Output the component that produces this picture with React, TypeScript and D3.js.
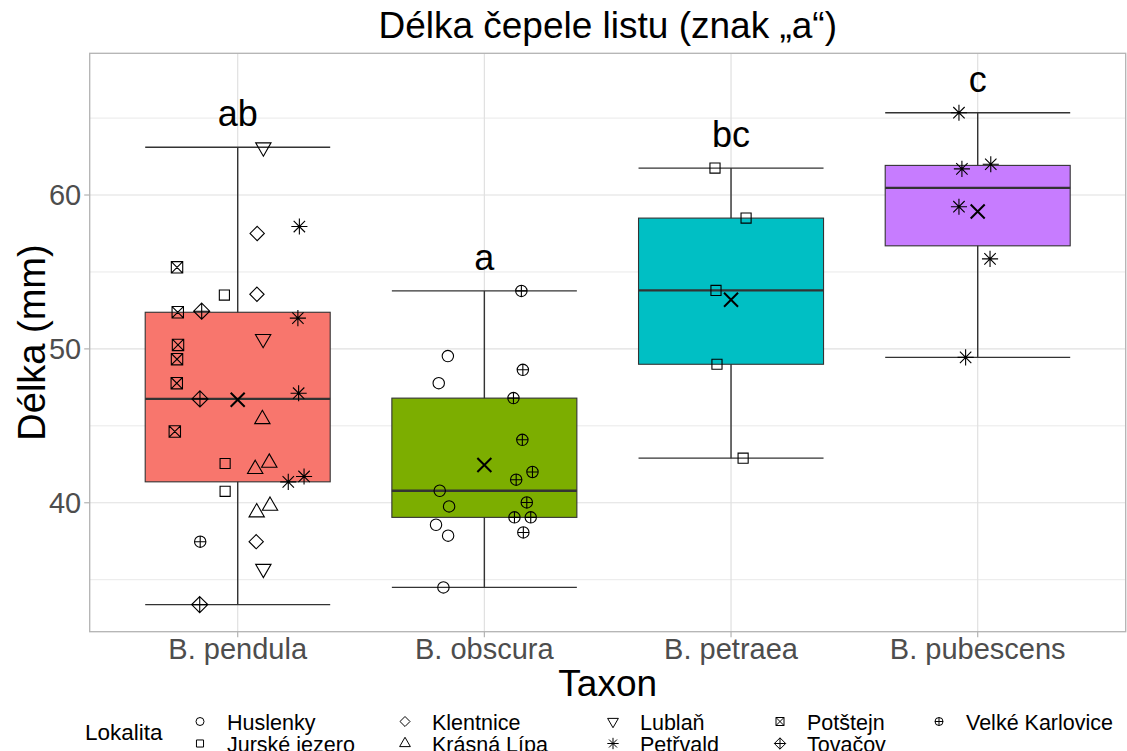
import React from "react";
import * as d3 from "d3";

// ---------- data ----------
const taxa = ["B. pendula", "B. obscura", "B. petraea", "B. pubescens"];
const taxonColors = ["#F8766D", "#7CAE00", "#00BFC4", "#C77CFF"];
const groupLetters = ["ab", "a", "bc", "c"];

const localities = [
  "Huslenky",
  "Jurské jezero",
  "Klentnice",
  "Krásná Lípa",
  "Lublaň",
  "Petřvald",
  "Potštejn",
  "Tovačov",
  "Velké Karlovice",
];
const localityShapes = [
  "circle",
  "square",
  "diamond",
  "triangle",
  "triangleDown",
  "asterisk",
  "squareCross",
  "diamondPlus",
  "circlePlus",
];

// B. pendula
const pendulaValues = [
  63.1, 57.5, 57.95, 55.3, 53.5, 53.55, 52.38, 52.45, 52.0, 50.65, 50.26, 49.33,
  47.77, 46.75, 47.12, 45.43, 44.63, 42.55, 42.6, 42.19, 41.36, 41.71, 40.74,
  39.8, 39.37, 37.47, 37.47, 35.71, 33.38,
];
const pendulaLocality = [
  4, 2, 5, 6, 1, 2, 6, 7, 5, 4, 6, 6, 6, 7, 5, 3, 6, 1, 3, 3, 5, 5, 1, 3, 3, 8,
  2, 4, 7,
];
const pendulaJitter = [
  0.104, 0.079, 0.25, -0.246, -0.054, 0.078, -0.243, -0.146, 0.244, 0.103,
  -0.242, -0.246, -0.247, -0.153, 0.247, 0.1, -0.255, -0.051, 0.128, 0.071,
  0.205, 0.269, -0.051, 0.131, 0.077, -0.152, 0.075, 0.104, -0.154,
];

// B. obscura
const obscuraValues = [
  49.53, 47.77, 40.78, 39.76, 38.57, 37.86, 34.5, 53.77, 48.64, 46.8, 44.09,
  42.0, 41.5, 40.02, 39.05, 39.05, 38.07,
];
const obscuraLocality = [0, 0, 0, 0, 0, 0, 0, 8, 8, 8, 8, 8, 8, 8, 8, 8, 8];
const obscuraJitter = [
  -0.148, -0.185, -0.181, -0.143, -0.196, -0.147, -0.166, 0.15, 0.156, 0.118,
  0.154, 0.195, 0.129, 0.172, 0.122, 0.188, 0.158,
];

// B. petraea
const petraeaValues = [61.75, 58.5, 53.8, 49.0, 42.9];
const petraeaLocality = [1, 1, 1, 1, 1];
const petraeaJitter = [-0.065, 0.061, -0.061, -0.057, 0.049];

// B. pubescens
const pubescensValues = [65.35, 61.7, 62.0, 59.24, 55.85, 49.45];
const pubescensLocality = [5, 5, 5, 5, 5, 5];
const pubescensJitter = [-0.076, -0.064, 0.053, -0.076, 0.05, -0.049];

const yMajorTicks = [40, 50, 60];
const yMinorTicks = [35, 45, 55, 65];

const titleText = "Délka čepele listu (znak „a“)";
const xTitle = "Taxon";
const yTitle = "Délka (mm)";
const legendTitle = "Lokalita";

// ---------- layout ----------
const W = 1127;
const H = 751;
const panel = { left: 89.7, right: 1125.7, top: 53.3, bottom: 631.7 };
const FONT = "'Liberation Sans', Arial, Helvetica, sans-serif";

const groups = [
  { values: pendulaValues, loc: pendulaLocality, jit: pendulaJitter },
  { values: obscuraValues, loc: obscuraLocality, jit: obscuraJitter },
  { values: petraeaValues, loc: petraeaLocality, jit: petraeaJitter },
  { values: pubescensValues, loc: pubescensLocality, jit: pubescensJitter },
];

const x = d3.scaleLinear().domain([-0.6, taxa.length - 0.4]).range([panel.left, panel.right]);
const y = d3.scaleLinear().domain([31.62, 69.21]).range([panel.bottom, panel.top]);

function boxStats(vals: number[]) {
  const s = vals.slice().sort(d3.ascending);
  const q1 = d3.quantile(s, 0.25) as number;
  const med = d3.quantile(s, 0.5) as number;
  const q3 = d3.quantile(s, 0.75) as number;
  const iqr = q3 - q1;
  const lo = d3.min(s.filter((v) => v >= q1 - 1.5 * iqr)) as number;
  const hi = d3.max(s.filter((v) => v <= q3 + 1.5 * iqr)) as number;
  const mean = d3.mean(s) as number;
  return { q1, med, q3, lo, hi, mean };
}

const TRC0 = 1.5551203;
const TRC1 = 1.3467737;
const TRC2 = 0.7775602;

function circlePath(cx: number, cy: number, r: number) {
  return `M${cx - r},${cy}a${r},${r} 0 1,0 ${2 * r},0a${r},${r} 0 1,0 ${-2 * r},0Z`;
}

function shapePath(shape: string, cx: number, cy: number, r: number) {
  switch (shape) {
    case "circle":
      return circlePath(cx, cy, r);
    case "square": {
      const s = r * 0.8862;
      return `M${cx - s},${cy - s}H${cx + s}V${cy + s}H${cx - s}Z`;
    }
    case "diamond": {
      const d = r * 1.2533;
      return `M${cx},${cy - d}L${cx + d},${cy}L${cx},${cy + d}L${cx - d},${cy}Z`;
    }
    case "triangle":
      return `M${cx},${cy - r * TRC0}L${cx + r * TRC1},${cy + r * TRC2}L${cx - r * TRC1},${cy + r * TRC2}Z`;
    case "triangleDown":
      return `M${cx},${cy + r * TRC0}L${cx + r * TRC1},${cy - r * TRC2}L${cx - r * TRC1},${cy - r * TRC2}Z`;
    case "asterisk": {
      const p = r * Math.SQRT2;
      return `M${cx - r},${cy - r}L${cx + r},${cy + r}M${cx - r},${cy + r}L${cx + r},${cy - r}M${cx - p},${cy}H${cx + p}M${cx},${cy - p}V${cy + p}`;
    }
    case "squareCross":
      return `M${cx - r},${cy - r}H${cx + r}V${cy + r}H${cx - r}ZM${cx - r},${cy - r}L${cx + r},${cy + r}M${cx - r},${cy + r}L${cx + r},${cy - r}`;
    case "diamondPlus": {
      const d = r * Math.SQRT2;
      return `M${cx},${cy - d}L${cx + d},${cy}L${cx},${cy + d}L${cx - d},${cy}ZM${cx - d},${cy}H${cx + d}M${cx},${cy - d}V${cy + d}`;
    }
    case "circlePlus":
      return `${circlePath(cx, cy, r)}M${cx - r},${cy}H${cx + r}M${cx},${cy - r}V${cy + r}`;
    default:
      return circlePath(cx, cy, r);
  }
}

const legendCols = [200, 405, 613, 780, 939];
const legendRowsBaseline = [730, 752];

export default function App() {
  const boxHalf = 0.375;
  const PT_R = 5.7;
  const LEG_R = 4.0;

  return (
    <svg
      width={W}
      height={H}
      viewBox={`0 0 ${W} ${H}`}
      style={{ position: "absolute", left: 0, top: 0, display: "block", background: "#fff" }}
      fontFamily={FONT}
    >
      <rect x={0} y={0} width={W} height={H} fill="#fff" />

      {/* grid */}
      {yMinorTicks.map((t) => (
        <line key={"mi" + t} x1={panel.left} x2={panel.right} y1={y(t)} y2={y(t)} stroke="#E6E6E6" strokeWidth={0.9} />
      ))}
      {yMajorTicks.map((t) => (
        <line key={"ma" + t} x1={panel.left} x2={panel.right} y1={y(t)} y2={y(t)} stroke="#E0E0E0" strokeWidth={1.2} />
      ))}
      {taxa.map((t, i) => (
        <line key={"vx" + t} x1={x(i)} x2={x(i)} y1={panel.top} y2={panel.bottom} stroke="#E0E0E0" strokeWidth={1.2} />
      ))}

      {/* boxes */}
      {groups.map((g, i) => {
        const st = boxStats(g.values);
        const cx = x(i);
        const x0 = x(i - boxHalf);
        const x1 = x(i + boxHalf);
        return (
          <g key={"box" + i}>
            <line x1={cx} x2={cx} y1={y(st.hi)} y2={y(st.lo)} stroke="#333333" strokeWidth={1.4} />
            <line x1={x0} x2={x1} y1={y(st.hi)} y2={y(st.hi)} stroke="#333333" strokeWidth={1.4} />
            <line x1={x0} x2={x1} y1={y(st.lo)} y2={y(st.lo)} stroke="#333333" strokeWidth={1.4} />
            <rect
              x={x0}
              y={y(st.q3)}
              width={x1 - x0}
              height={y(st.q1) - y(st.q3)}
              fill={taxonColors[i]}
              stroke="#333333"
              strokeWidth={1.1}
            />
            <line x1={x0} x2={x1} y1={y(st.med)} y2={y(st.med)} stroke="#333333" strokeWidth={2.3} />
          </g>
        );
      })}

      {/* points */}
      {groups.map((g, i) =>
        g.values.map((v, j) => (
          <path
            key={`pt${i}-${j}`}
            d={shapePath(localityShapes[g.loc[j]], x(i + g.jit[j]), y(v), PT_R)}
            fill="none"
            stroke="#000"
            strokeWidth={1.1}
          />
        ))
      )}

      {/* means */}
      {groups.map((g, i) => {
        const m = d3.mean(g.values) as number;
        const cx = x(i);
        const cy = y(m);
        const h = 7;
        return (
          <path
            key={"mean" + i}
            d={`M${cx - h},${cy - h}L${cx + h},${cy + h}M${cx - h},${cy + h}L${cx + h},${cy - h}`}
            stroke="#000"
            strokeWidth={2}
            fill="none"
          />
        );
      })}

      {/* group letters */}
      {groups.map((g, i) => {
        const st = boxStats(g.values);
        return (
          <text key={"lt" + i} x={x(i)} y={y(st.hi) - 21} textAnchor="middle" fontSize={36} fill="#000">
            {groupLetters[i]}
          </text>
        );
      })}

      {/* panel border */}
      <rect
        x={panel.left}
        y={panel.top}
        width={panel.right - panel.left}
        height={panel.bottom - panel.top}
        fill="none"
        stroke="#B3B3B3"
        strokeWidth={1.3}
      />

      {/* y axis */}
      {yMajorTicks.map((t) => (
        <g key={"yt" + t}>
          <line x1={panel.left - 5.5} x2={panel.left} y1={y(t)} y2={y(t)} stroke="#B3B3B3" strokeWidth={1.2} />
          <text x={panel.left - 8.5} y={y(t)} dy="0.36em" textAnchor="end" fontSize={29} fill="#4D4D4D">
            {t}
          </text>
        </g>
      ))}

      {/* x axis */}
      {taxa.map((t, i) => (
        <g key={"xt" + t}>
          <line x1={x(i)} x2={x(i)} y1={panel.bottom} y2={panel.bottom + 5.5} stroke="#B3B3B3" strokeWidth={1.2} />
          <text x={x(i)} y={659} textAnchor="middle" fontSize={29} fill="#4D4D4D">
            {t}
          </text>
        </g>
      ))}

      {/* titles */}
      <text x={(panel.left + panel.right) / 2} y={38} textAnchor="middle" fontSize={37} fill="#000">
        {titleText}
      </text>
      <text x={(panel.left + panel.right) / 2} y={696} textAnchor="middle" fontSize={37} fill="#000">
        {xTitle}
      </text>
      <text
        transform={`translate(45,${(panel.top + panel.bottom) / 2}) rotate(-90)`}
        textAnchor="middle"
        fontSize={38}
        fill="#000"
      >
        {yTitle}
      </text>

      {/* legend */}
      <text x={85} y={740} fontSize={22.5} fill="#000">
        {legendTitle}
      </text>
      {localities.map((name, k) => {
        const col = Math.floor(k / 2);
        const row = k % 2;
        const kx = legendCols[col];
        const base = legendRowsBaseline[row];
        return (
          <g key={"lg" + k}>
            <path
              d={shapePath(localityShapes[k], kx, base - 8.5, LEG_R)}
              fill="none"
              stroke="#000"
              strokeWidth={1}
            />
            <text x={kx + 27} y={base} fontSize={21.5} fill="#000">
              {name}
            </text>
          </g>
        );
      })}
    </svg>
  );
}
